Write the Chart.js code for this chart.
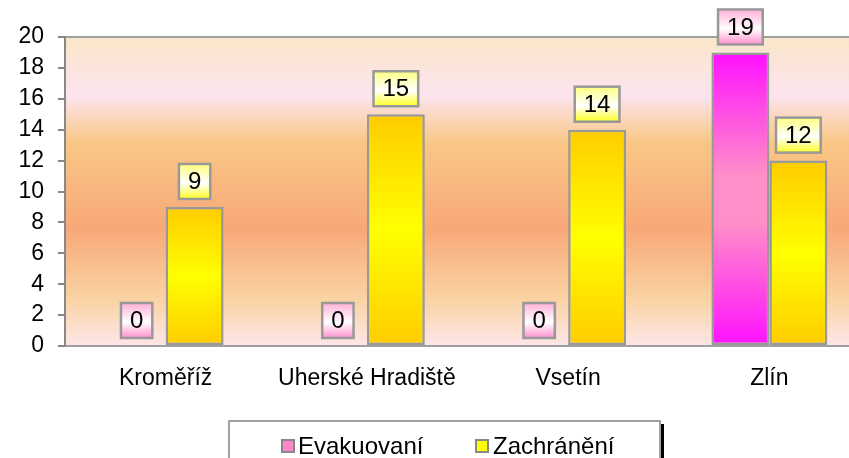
<!DOCTYPE html>
<html>
<head>
<meta charset="utf-8">
<script src="https://cdn.jsdelivr.net/npm/chart.js@4"></script>
<style>
  html, body { margin: 0; padding: 0; background: #fff; overflow: hidden; }
  #wrap { position: relative; width: 870px; height: 458px; }
</style>
</head>
<body>
<div id="wrap"><canvas id="myChart"></canvas></div>
<script>
var districts = ["Kroměříž", "Uherské Hradiště", "Vsetín", "Zlín"];
var evakuovani = [0, 0, 0, 19];
var zachraneni = [9, 15, 14, 12];
var yTicks = [0, 2, 4, 6, 8, 10, 12, 14, 16, 18, 20];

var FONT = "'Liberation Sans', Arial, sans-serif";

function barFill(stops, solid) {
  return function (c) {
    var chart = c.chart;
    if (!chart.chartArea || c.type !== "data" || !chart.scales.y) return solid;
    var top = chart.scales.y.getPixelForValue(c.raw);
    var base = chart.scales.y.getPixelForValue(0);
    if (Math.abs(base - top) < 1) return solid;
    var g = chart.ctx.createLinearGradient(0, top, 0, base);
    stops.forEach(function (s) { g.addColorStop(s[0], s[1]); });
    return g;
  };
}

// plot area background + top border
var plotBg = {
  id: "plotBg",
  beforeDraw: function (chart) {
    var a = chart.chartArea, ctx = chart.ctx;
    var g = ctx.createLinearGradient(0, a.top, 0, a.bottom);
    g.addColorStop(0, "#FAE6C8");
    g.addColorStop(0.19, "#FCE4EE");
    g.addColorStop(0.34, "#F9C785");
    g.addColorStop(0.62, "#F8A878");
    g.addColorStop(0.85, "#FAD3A4");
    g.addColorStop(1, "#FDE6E8");
    ctx.save();
    ctx.fillStyle = g;
    ctx.fillRect(a.left, a.top, a.right - a.left, a.bottom - a.top);
    ctx.strokeStyle = "#A0A0A0";
    ctx.lineWidth = 2;
    ctx.beginPath();
    ctx.moveTo(a.left, a.top);
    ctx.lineTo(a.right, a.top);
    ctx.stroke();
    ctx.restore();
  }
};

// value boxes above bars
var valueBoxes = {
  id: "valueBoxes",
  afterDatasetsDraw: function (chart) {
    var ctx = chart.ctx;
    var fills = [
      ["#FFB0D8", "#FFFFFF", "#FF90CC"],
      ["#FFFF80", "#FFFFFF", "#FFFF20"]
    ];
    ctx.save();
    ctx.font = "24px " + FONT;
    chart.data.datasets.forEach(function (ds, di) {
      var meta = chart.getDatasetMeta(di);
      meta.data.forEach(function (el, i) {
        var txt = String(ds.data[i]);
        var w = ctx.measureText(txt).width + 18;
        var h = 35;
        var x = el.x - w / 2;
        var y = el.y - 8 - h;
        var g = ctx.createLinearGradient(0, y, 0, y + h);
        g.addColorStop(0, fills[di][0]);
        g.addColorStop(0.55, fills[di][1]);
        g.addColorStop(1, fills[di][2]);
        ctx.fillStyle = g;
        ctx.fillRect(x, y, w, h);
        ctx.strokeStyle = "#999999";
        ctx.lineWidth = 2.5;
        ctx.strokeRect(x, y, w, h);
        ctx.fillStyle = "#000";
        ctx.textAlign = "center";
        ctx.textBaseline = "middle";
        ctx.fillText(txt, el.x, y + h / 2 + 1);
      });
    });
    ctx.restore();
  }
};

// boxed legend at the bottom
var boxLegend = {
  id: "boxLegend",
  afterDraw: function (chart) {
    var ctx = chart.ctx;
    ctx.save();
    ctx.fillStyle = "#000";
    ctx.fillRect(661, 424, 3, 40);
    ctx.strokeStyle = "#A0A0A0";
    ctx.lineWidth = 2;
    ctx.strokeRect(229, 421, 431, 44);
    var items = [
      { x: 282, tx: 298, color: "#FF88CC" },
      { x: 476, tx: 493, color: "#FFFF00" }
    ];
    ctx.font = "24px " + FONT;
    ctx.textBaseline = "middle";
    ctx.textAlign = "left";
    chart.data.datasets.forEach(function (ds, di) {
      var it = items[di];
      ctx.fillStyle = it.color;
      ctx.fillRect(it.x, 440, 12, 12);
      ctx.strokeStyle = "#888";
      ctx.lineWidth = 2;
      ctx.strokeRect(it.x, 440, 12, 12);
      ctx.fillStyle = "#000";
      ctx.fillText(ds.label, it.tx, 447);
    });
    ctx.restore();
  }
};

var ctx = document.getElementById("myChart");
var myChart = new Chart(ctx, {
  type: "bar",
  data: {
    labels: districts,
    datasets: [
      {
        label: "Evakuovaní",
        data: evakuovani,
        backgroundColor: barFill([[0, "#FF10FF"], [0.42, "#FF8FC8"], [0.58, "#FF8FC8"], [1, "#FF10FF"]], "#FF88CC"),
        borderColor: "#999999",
        borderWidth: 2.5,
        borderSkipped: false,
      },
      {
        label: "Zachránění",
        data: zachraneni,
        backgroundColor: barFill([[0, "#FFCC00"], [0.5, "#FFFF00"], [1, "#FFCC00"]], "#FFFF00"),
        borderColor: "#999999",
        borderWidth: 2.5,
        borderSkipped: false,
      },
    ],
  },
  options: {
    responsive: true,
    maintainAspectRatio: false,
    animation: false,
    categoryPercentage: 0.576,
    barPercentage: 1.0,
    layout: {
      padding: { left: 0, top: 37, right: 0, bottom: 70 },
    },
    plugins: {
      legend: { display: false },
      tooltip: { enabled: false },
    },
    scales: {
      x: {
        grid: { display: false },
        border: { color: "#A0A0A0", width: 2 },
        ticks: {
          color: "#000",
          padding: 11,
          maxRotation: 0,
          autoSkip: false,
          font: { family: FONT, size: 23 },
        },
        afterFit: function (s) { s.height = 42; },
      },
      y: {
        min: 0,
        max: 20,
        afterBuildTicks: function (s) {
          s.ticks = yTicks.map(function (v) { return { value: v }; });
        },
        grid: {
          drawOnChartArea: false,
          drawTicks: true,
          tickLength: 7,
          color: "#888888",
          lineWidth: 2,
        },
        border: { color: "#888888", width: 2 },
        ticks: {
          color: "#000",
          padding: 14,
          font: { family: FONT, size: 23 },
        },
        afterFit: function (s) { s.width = 65; },
      },
    },
  },
  plugins: [plotBg, valueBoxes, boxLegend],
});
</script>
</body>
</html>
